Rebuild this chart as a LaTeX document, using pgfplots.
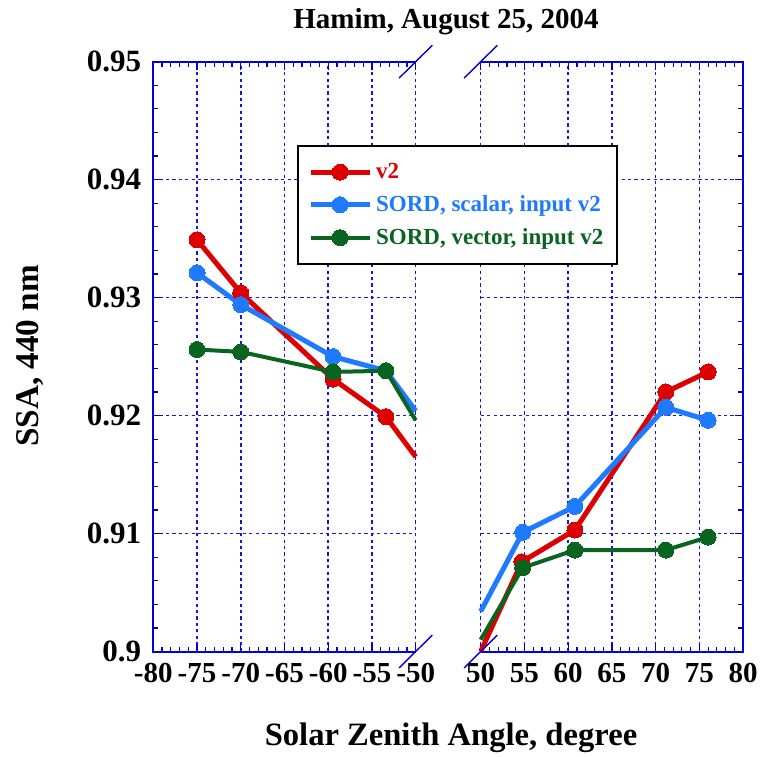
\documentclass[border=0pt]{standalone}
\usepackage{fontspec}
\setmainfont{Liberation Serif}
\usepackage{pgfplots}
\pgfplotsset{compat=1.18}

\definecolor{axblue}{RGB}{0,0,215}
\definecolor{gridblue}{RGB}{20,20,240}
\definecolor{sred}{RGB}{221,0,0}
\definecolor{sblue}{RGB}{30,122,255}
\definecolor{sgreen}{RGB}{8,100,30}

\pgfplotsset{
  panel/.style={
    scale only axis, width=131.2pt, height=294.9pt,
    ymin=0.9, ymax=0.95,
    ytick={0.9,0.91,0.92,0.93,0.94,0.95},
    minor x tick num=4, minor y tick num=4,
    axis line style={draw=none},
    tick style={axblue, line width=0.6pt},
    major tick length=4pt, minor tick length=2.5pt,
    grid=major,
    every major grid/.style={draw=gridblue, line width=0.8pt, dash pattern=on 1.6pt off 1.6pt},
    xticklabel style={font=\fontsize{14.5}{14.5}\selectfont\bfseries, yshift=-2.5pt},
    yticklabel style={font=\fontsize{15.5}{15.5}\selectfont\bfseries, xshift=-2.5pt},
    /pgf/number format/assume math mode=true,
    xticklabel pos=lower,
    clip=false,
  },
  vred/.style={sred, line width=2.5pt, mark=*, mark size=4pt, mark options={solid, fill=sred, draw=sred, line width=0pt}},
  vblue/.style={sblue, line width=2.5pt, mark=*, mark size=4pt, mark options={solid, fill=sblue, draw=sblue, line width=0pt}},
  vgreen/.style={sgreen, line width=2pt, mark=*, mark size=4pt, mark options={solid, fill=sgreen, draw=sgreen, line width=0pt}},
}

\begin{document}
\begin{tikzpicture}
\path[use as bounding box] (-76.65pt,-52.25pt) rectangle (303.85pt,325.75pt);

% morning branch
\begin{axis}[panel, name=L,
  xmin=-80, xmax=-50, xtick={-80,-75,-70,-65,-60,-55,-50},
  ytick pos=left,
]
\draw[axblue, line width=1pt] (rel axis cs:1,0) -- (rel axis cs:0,0) -- (rel axis cs:0,1) -- (rel axis cs:1,1);
\addplot[vred, mark indices={1,2,3,4}] coordinates {
  (-75,0.9349) (-70,0.9304) (-59.45,0.9231) (-53.4,0.9199) (-50,0.9165)
};
\addplot[vblue, mark indices={1,2,3,4}] coordinates {
  (-75,0.9321) (-70,0.9294) (-59.45,0.9250) (-53.4,0.9238) (-50,0.9204)
};
\addplot[vgreen, mark indices={1,2,3,4}] coordinates {
  (-75,0.9256) (-70,0.9254) (-59.45,0.9237) (-53.4,0.9238) (-50,0.9196)
};
\end{axis}

% afternoon branch
\begin{axis}[panel, name=R, at={(163.7pt,0pt)},
  xmin=50, xmax=80, xtick={50,55,60,65,70,75,80},
  ytick pos=right, yticklabels={},
  legend style={at={(rel axis cs:-0.6995,0.8588)}, anchor=north west,
    draw=black, line width=1pt, fill=white,
    font=\fontsize{11.5}{11.5}\selectfont\bfseries,
    cells={anchor=west, inner xsep=2pt}, row sep=3pt, inner xsep=5pt, inner ysep=6.5pt},
  legend image code/.code={
    \draw[#1, mark indices={2}] plot coordinates {(0pt,0pt) (14.75pt,0pt) (29.5pt,0pt)};},
]
\draw[axblue, line width=1pt] (rel axis cs:0,1) -- (rel axis cs:1,1) -- (rel axis cs:1,0) -- (rel axis cs:0,0);
\addplot[vred, mark indices={2,3,4,5}] coordinates {
  (50,0.9000) (54.7,0.9076) (60.77,0.9103) (71.17,0.9220) (76.0,0.9237)
};
\addlegendentry[text=sred]{v2}
\addplot[vblue, mark indices={2,3,4,5}] coordinates {
  (50,0.9034) (54.8,0.9101) (60.77,0.9123) (71.17,0.9207) (76.0,0.9196)
};
\addlegendentry[text=sblue]{SORD, scalar, input v2}
\addplot[vgreen, mark indices={2,3,4,5}] coordinates {
  (50,0.9010) (54.8,0.9071) (60.77,0.9086) (71.17,0.9086) (76.0,0.9097)
};
\addlegendentry[text=sgreen]{SORD, vector, input v2}
\end{axis}

% axis break marks
\foreach \c in {L.north east, L.south east, R.north west, R.south west}
  \draw[axblue, line width=0.7pt] ([shift={(-8.3pt,-8.2pt)}]\c) -- ++(16.6pt,16.4pt);

\node[font=\fontsize{14.5}{14.5}\selectfont\bfseries] at (146.35pt,314.75pt) {Hamim, August 25, 2004};
\node[font=\fontsize{16.3}{16.3}\selectfont\bfseries] at (148.85pt,-43.25pt) {Solar Zenith Angle, degree};
\node[font=\fontsize{16.6}{16.6}\selectfont\bfseries, rotate=90] at (-61.65pt,147.75pt) {SSA, 440 nm};
\end{tikzpicture}
\end{document}
